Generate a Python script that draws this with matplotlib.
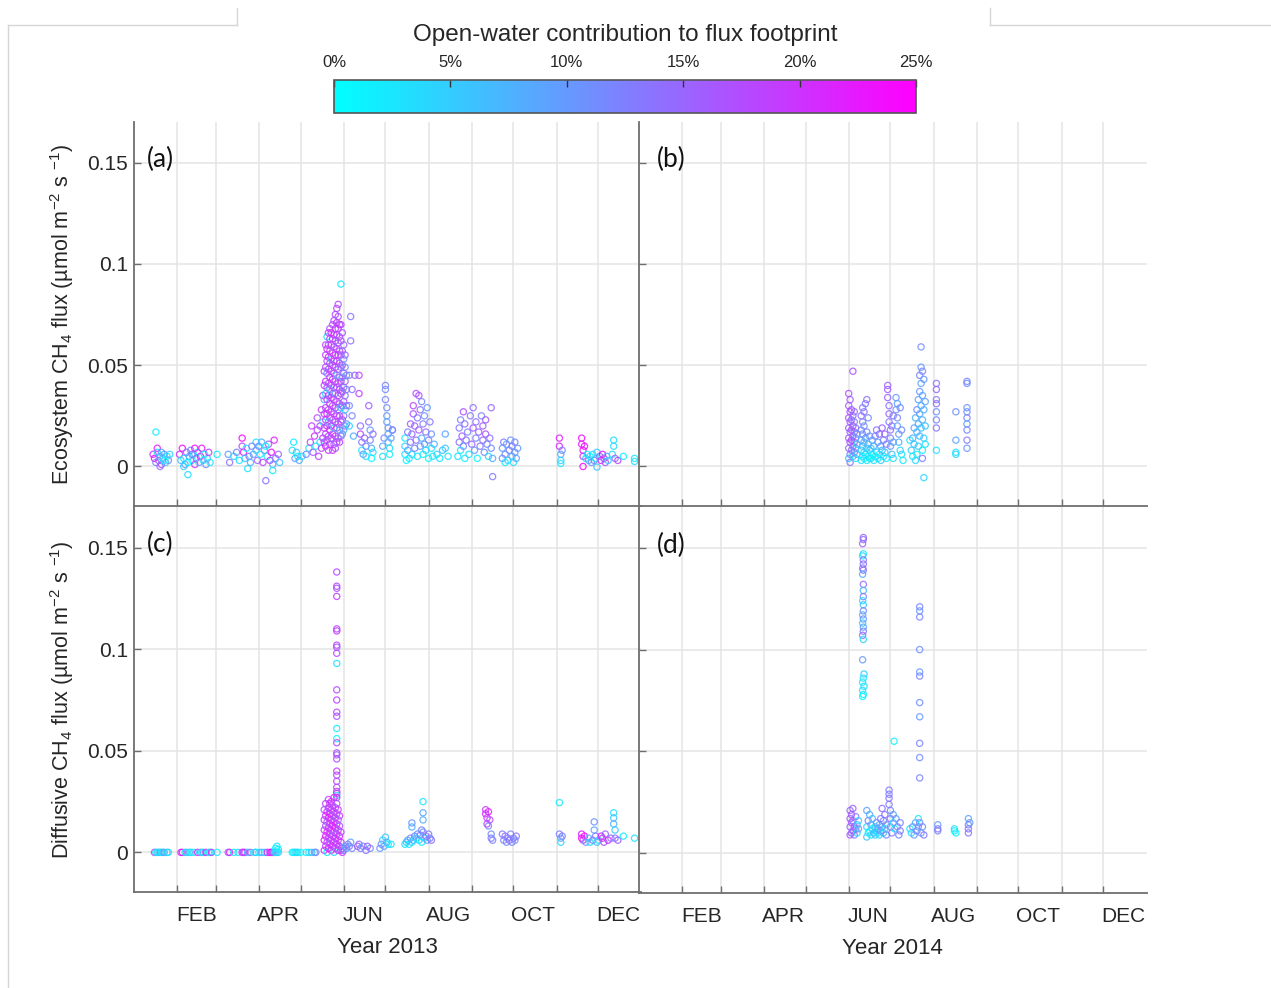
import matplotlib
matplotlib.use('Agg')
import matplotlib.pyplot as plt
import matplotlib.colors as mcolors
from matplotlib.lines import Line2D
import numpy as np

plt.rcParams.update({
    'font.family': ['Liberation Sans', 'DejaVu Sans'],
    'mathtext.fontset': 'custom',
    'mathtext.rm': 'Liberation Sans',
    'mathtext.it': 'Liberation Sans:italic',
    'mathtext.default': 'regular',
})

# (day of year, flux in umol m-2 s-1, open-water contribution in %)
eco_2013 = [
    (16, 0.017, 2), (14, 0.006, 20), (15, 0.004, 24), (16, 0.002, 12), (17, 0.007, 3), (18, 0.003, 15),
    (19, 0.005, 8), (20, 0.001, 18), (21, 0.004, 4), (22, 0.006, 10), (23, 0.002, 6), (24, 0.005, 2),
    (25, 0.003, 12), (26, 0.006, 5), (17, 0.009, 22), (19, 0.0, 14), (22, 0.003, 1), (20, 0.007, 9),
    (33, 0.006, 20), (34, 0.003, 6), (35, 0.009, 24), (36, 0.004, 2), (37, 0.001, 10), (38, 0.007, 14),
    (39, -0.004, 3), (39, 0.002, 1), (40, 0.005, 8), (41, 0.008, 12), (42, 0.003, 0), (43, 0.006, 4),
    (44, 0.001, 20), (45, 0.004, 16), (46, 0.007, 2), (47, 0.002, 9), (48, 0.005, 24), (49, 0.009, 23),
    (50, 0.003, 3), (51, 0.006, 1), (52, 0.001, 11), (53, 0.004, 7), (54, 0.007, 19), (55, 0.002, 2),
    (36, 0.0, 5), (44, 0.009, 24), (42, 0.006, 13), (60, 0.006, 2),
    (68, 0.006, 10), (69, 0.002, 14), (72, 0.005, 4), (74, 0.007, 12), (76, 0.003, 2), (78, 0.014, 24),
    (78, 0.010, 18), (79, 0.007, 22), (80, 0.004, 6), (81, 0.009, 1), (82, -0.001, 3), (83, 0.005, 13),
    (84, 0.002, 8), (86, 0.006, 9), (88, 0.012, 3), (88, 0.008, 5), (89, 0.003, 15), (90, 0.010, 12),
    (91, 0.006, 2), (92, 0.012, 7), (93, 0.002, 18), (94, 0.008, 10), (95, -0.007, 14), (96, 0.005, 4),
    (97, 0.011, 16), (98, 0.003, 20), (99, 0.007, 24), (100, 0.001, 9), (101, 0.013, 22), (102, 0.004, 13),
    (104, 0.006, 15), (105, 0.002, 6), (85, 0.010, 12), (95, 0.010, 1), (100, -0.002, 2),
    (114, 0.008, 3), (115, 0.012, 2), (116, 0.004, 10), (117, 0.007, 6), (118, 0.005, 1), (119, 0.003, 8),
    (121, 0.005, 4), (124, 0.006, 12), (126, 0.009, 4),
    (127, 0.012, 18), (128, 0.020, 19), (129, 0.007, 16), (130, 0.015, 20), (131, 0.010, 3), (132, 0.018, 18),
    (132, 0.024, 17), (133, 0.005, 19), (134, 0.012, 2), (134, 0.020, 17), (135, 0.009, 18), (135, 0.028, 19),
    (136, 0.014, 20), (136, 0.022, 5), (136, 0.035, 18),
    (137, 0.012, 18), (137, 0.019, 20), (137, 0.026, 17), (137, 0.033, 8), (137, 0.040, 19), (137, 0.047, 18),
    (138, 0.010, 21), (138, 0.016, 17), (138, 0.023, 19), (138, 0.029, 18), (138, 0.036, 4), (138, 0.042, 20),
    (138, 0.049, 17), (138, 0.055, 19), (138, 0.060, 18),
    (139, 0.013, 17), (139, 0.020, 19), (139, 0.026, 21), (139, 0.033, 18), (139, 0.039, 17), (139, 0.046, 12),
    (139, 0.052, 18), (139, 0.058, 20), (139, 0.064, 3),
    (140, 0.008, 19), (140, 0.015, 18), (140, 0.022, 8), (140, 0.028, 19), (140, 0.035, 20), (140, 0.041, 17),
    (140, 0.048, 18), (140, 0.054, 21), (140, 0.060, 18), (140, 0.066, 19),
    (141, 0.011, 18), (141, 0.018, 21), (141, 0.024, 17), (141, 0.031, 18), (141, 0.038, 6), (141, 0.044, 19),
    (141, 0.051, 17), (141, 0.057, 20), (141, 0.063, 18), (141, 0.068, 17),
    (142, 0.014, 17), (142, 0.020, 18), (142, 0.027, 20), (142, 0.034, 18), (142, 0.040, 17), (142, 0.047, 19),
    (142, 0.053, 9), (142, 0.060, 18), (142, 0.066, 20),
    (143, 0.008, 20), (143, 0.016, 18), (143, 0.023, 17), (143, 0.030, 19), (143, 0.036, 18), (143, 0.043, 21),
    (143, 0.050, 17), (143, 0.056, 18), (143, 0.063, 19), (143, 0.070, 18),
    (144, 0.011, 17), (144, 0.019, 5), (144, 0.026, 18), (144, 0.033, 20), (144, 0.039, 17), (144, 0.046, 18),
    (144, 0.052, 19), (144, 0.059, 17), (144, 0.065, 21), (144, 0.072, 18),
    (145, 0.009, 18), (145, 0.015, 19), (145, 0.022, 17), (145, 0.029, 18), (145, 0.036, 10), (145, 0.042, 19),
    (145, 0.049, 18), (145, 0.055, 20), (145, 0.062, 17), (145, 0.068, 19), (145, 0.075, 18),
    (146, 0.012, 16), (146, 0.019, 18), (146, 0.025, 20), (146, 0.032, 17), (146, 0.039, 18), (146, 0.045, 7),
    (146, 0.052, 19), (146, 0.058, 18), (146, 0.065, 17), (146, 0.071, 20), (146, 0.078, 18),
    (147, 0.014, 19), (147, 0.021, 17), (147, 0.028, 12), (147, 0.035, 19), (147, 0.041, 18), (147, 0.048, 17),
    (147, 0.055, 20), (147, 0.061, 18), (147, 0.068, 19), (147, 0.074, 17), (147, 0.080, 18),
    (148, 0.012, 18), (148, 0.018, 10), (148, 0.025, 19), (148, 0.031, 17), (148, 0.038, 18), (148, 0.044, 14),
    (148, 0.051, 18), (148, 0.057, 19), (148, 0.064, 17), (148, 0.070, 18),
    (149, 0.015, 14), (149, 0.022, 18), (149, 0.029, 6), (149, 0.036, 17), (149, 0.042, 19), (149, 0.049, 13),
    (149, 0.055, 18), (149, 0.062, 17), (149, 0.070, 19), (149, 0.090, 2),
    (150, 0.016, 11), (150, 0.023, 17), (150, 0.030, 15), (150, 0.037, 18), (150, 0.044, 9), (150, 0.050, 16),
    (150, 0.057, 14), (150, 0.066, 17),
    (151, 0.018, 8), (151, 0.025, 14), (151, 0.032, 17), (151, 0.039, 12), (151, 0.046, 16), (151, 0.053, 11),
    (151, 0.060, 15),
    (152, 0.020, 13), (152, 0.028, 5), (152, 0.035, 14), (152, 0.042, 16), (152, 0.049, 12), (152, 0.055, 15),
    (153, 0.021, 10), (153, 0.030, 14), (153, 0.038, 13), (153, 0.045, 11),
    (155, 0.020, 4), (155, 0.030, 12), (155, 0.045, 13), (156, 0.062, 14), (156, 0.074, 13), (157, 0.025, 12),
    (157, 0.038, 14), (158, 0.015, 8), (159, 0.045, 14),
    (162, 0.045, 18), (162, 0.036, 19), (163, 0.020, 14), (163, 0.016, 18), (164, 0.012, 13), (164, 0.008, 2),
    (165, 0.006, 10), (166, 0.014, 15), (167, 0.005, 4), (167, 0.010, 12), (169, 0.030, 16), (169, 0.022, 14),
    (170, 0.018, 10), (170, 0.013, 12), (171, 0.009, 8), (171, 0.004, 1), (172, 0.016, 14), (172, 0.007, 3),
    (179, 0.010, 9), (179, 0.005, 3), (180, 0.014, 12), (181, 0.040, 12), (181, 0.038, 11), (181, 0.033, 12),
    (182, 0.029, 11), (182, 0.025, 10), (182, 0.022, 9), (183, 0.019, 11), (183, 0.016, 8), (183, 0.012, 6),
    (184, 0.009, 4), (184, 0.006, 2), (185, 0.014, 10), (186, 0.018, 13), (186, 0.018, 11),
    (195, 0.006, 3), (195, 0.010, 5), (195, 0.014, 2), (196, 0.003, 1), (197, 0.008, 9), (197, 0.017, 12),
    (198, 0.004, 2), (199, 0.012, 14), (199, 0.021, 16), (200, 0.006, 4), (200, 0.016, 15), (201, 0.026, 17),
    (201, 0.030, 18), (202, 0.009, 12), (202, 0.020, 15), (203, 0.036, 18), (203, 0.013, 14), (204, 0.024, 13),
    (204, 0.005, 3), (205, 0.035, 17), (205, 0.018, 16), (206, 0.010, 10), (206, 0.028, 14), (207, 0.032, 12),
    (207, 0.014, 8), (208, 0.021, 13), (208, 0.006, 2), (209, 0.025, 11), (209, 0.011, 9), (210, 0.017, 14),
    (210, 0.008, 4), (211, 0.029, 10), (212, 0.013, 12), (212, 0.004, 1), (213, 0.022, 13), (214, 0.016, 11),
    (214, 0.009, 3), (215, 0.005, 2), (216, 0.011, 8),
    (218, 0.006, 4), (220, 0.004, 2), (222, 0.008, 6), (224, 0.016, 9), (224, 0.009, 5), (226, 0.005, 3),
    (233, 0.005, 3), (234, 0.012, 14), (234, 0.019, 13), (235, 0.023, 12), (235, 0.008, 2), (236, 0.015, 16),
    (237, 0.027, 17), (237, 0.010, 11), (238, 0.021, 14), (238, 0.004, 2), (239, 0.013, 13), (240, 0.017, 12),
    (241, 0.006, 3), (242, 0.025, 13), (243, 0.011, 15), (244, 0.029, 14), (244, 0.019, 16), (245, 0.008, 10),
    (246, 0.014, 12), (246, 0.022, 14), (247, 0.004, 1), (248, 0.017, 15), (249, 0.010, 13), (250, 0.025, 12),
    (251, 0.013, 14), (251, 0.020, 16), (252, 0.007, 11), (253, 0.016, 17), (253, 0.023, 16), (254, 0.011, 12),
    (255, 0.005, 4), (256, 0.014, 14), (257, 0.029, 15), (257, 0.009, 11), (258, -0.005, 13), (258, 0.004, 8),
    (265, 0.004, 12), (265, 0.009, 10), (266, 0.012, 13), (267, 0.002, 2), (267, 0.006, 11), (268, 0.011, 9),
    (269, 0.003, 5), (270, 0.008, 12), (271, 0.013, 10), (272, 0.005, 8), (272, 0.010, 13), (273, 0.002, 3),
    (274, 0.007, 11), (274, 0.012, 12), (275, 0.004, 9), (276, 0.009, 10),
    (306, 0.014, 22), (306, 0.010, 21), (307, 0.006, 8), (307, 0.003, 5), (307, 0.0015, 2), (308, 0.008, 12),
    (322, 0.014, 24), (322, 0.011, 22), (323, 0.008, 23), (323, 0.005, 20), (323, 0.0, 24), (324, 0.010, 24),
    (325, 0.004, 6), (326, 0.006, 3), (327, 0.003, 8), (328, 0.005, 1), (329, 0.002, 10), (330, 0.006, 4),
    (331, 0.003, 12), (332, 0.004, 2), (333, -0.0003, 6), (333, 0.007, 5), (335, 0.005, 13), (336, 0.003, 21),
    (337, 0.006, 24), (338, 0.004, 17), (339, 0.002, 16), (340, 0.005, 9), (341, 0.003, 5), (344, 0.006, 3),
    (345, 0.013, 3), (345, 0.010, 4), (346, 0.004, 14), (348, 0.003, 18),
    (352, 0.005, 2), (360, 0.004, 2), (360, 0.0025, 3),
]

eco_2014 = [
    (151, 0.004, 6), (151, 0.009, 14), (151, 0.014, 16), (151, 0.019, 15), (151, 0.024, 17), (151, 0.030, 16),
    (151, 0.036, 17), (152, 0.006, 12), (152, 0.012, 17), (152, 0.017, 15), (152, 0.022, 16), (152, 0.027, 18),
    (152, 0.033, 16), (152, 0.002, 14), (153, 0.008, 15), (153, 0.013, 17), (153, 0.018, 16), (153, 0.023, 14),
    (153, 0.028, 16), (154, 0.005, 7), (154, 0.010, 14), (154, 0.015, 16), (154, 0.020, 17), (154, 0.025, 15),
    (154, 0.047, 17), (155, 0.007, 13), (155, 0.012, 16), (155, 0.017, 15), (155, 0.022, 12), (155, 0.027, 14),
    (156, 0.004, 3), (156, 0.009, 10), (156, 0.014, 12), (156, 0.019, 14), (157, 0.006, 8), (157, 0.011, 5),
    (157, 0.016, 10),
    (160, 0.003, 3), (160, 0.008, 5), (160, 0.013, 9), (160, 0.018, 12), (160, 0.025, 14), (161, 0.005, 2),
    (161, 0.010, 7), (161, 0.016, 11), (161, 0.022, 13), (161, 0.029, 12), (162, 0.004, 1), (162, 0.007, 4),
    (162, 0.012, 8), (162, 0.020, 10), (162, 0.027, 14), (163, 0.006, 3), (163, 0.014, 9), (163, 0.031, 13),
    (164, 0.003, 2), (164, 0.009, 6), (164, 0.017, 12), (164, 0.033, 14), (165, 0.005, 1), (165, 0.011, 7),
    (165, 0.024, 11), (166, 0.004, 3), (166, 0.008, 4), (166, 0.015, 10),
    (167, 0.004, 1), (167, 0.009, 6), (168, 0.006, 2), (168, 0.013, 9), (169, 0.003, 3), (169, 0.010, 8),
    (170, 0.005, 1), (170, 0.015, 12), (171, 0.007, 4), (171, 0.018, 13), (172, 0.004, 2), (172, 0.012, 10),
    (173, 0.006, 1), (173, 0.016, 14), (174, 0.003, 5), (174, 0.010, 9), (175, 0.008, 7), (175, 0.019, 15),
    (176, 0.005, 3), (176, 0.013, 12), (177, 0.007, 6), (177, 0.016, 15), (178, 0.004, 2), (178, 0.011, 13),
    (179, 0.040, 15), (179, 0.038, 16), (179, 0.034, 15), (180, 0.030, 14), (180, 0.026, 15), (180, 0.022, 13),
    (181, 0.018, 14), (181, 0.014, 12), (181, 0.010, 10), (182, 0.006, 6), (182, 0.020, 14), (183, 0.004, 3),
    (183, 0.012, 9), (183, 0.025, 13),
    (185, 0.034, 10), (185, 0.028, 11), (186, 0.024, 12), (186, 0.020, 9), (187, 0.016, 10), (187, 0.012, 8),
    (188, 0.008, 4), (188, 0.029, 12), (189, 0.018, 11), (189, 0.006, 3), (190, 0.003, 2), (186, 0.031, 9),
    (195, 0.013, 3), (196, 0.008, 5), (197, 0.014, 8), (197, 0.005, 2), (198, 0.019, 9), (198, 0.011, 6),
    (199, 0.024, 8), (199, 0.003, 4), (200, 0.028, 11), (200, 0.017, 7), (200, 0.006, 2), (201, 0.033, 9),
    (201, 0.021, 8), (201, 0.010, 5), (202, 0.045, 12), (202, 0.037, 10), (202, 0.026, 9), (202, 0.015, 7),
    (203, 0.059, 11), (203, 0.049, 10), (203, 0.041, 9), (203, 0.030, 8), (203, 0.019, 6), (204, 0.047, 12),
    (204, 0.035, 9), (204, 0.023, 7), (204, 0.008, 2), (205, 0.043, 10), (205, 0.028, 8), (205, 0.014, 5),
    (205, -0.0055, 4), (206, 0.032, 9), (206, 0.020, 6), (206, 0.011, 3), (204, 0.004, 13),
    (214, 0.041, 14), (214, 0.038, 15), (214, 0.033, 13), (214, 0.031, 14), (214, 0.027, 11), (214, 0.023, 12),
    (214, 0.019, 13), (214, 0.008, 3),
    (228, 0.027, 11), (228, 0.013, 9), (228, 0.007, 3), (228, 0.006, 4),
    (236, 0.042, 12), (236, 0.041, 11), (236, 0.029, 10), (236, 0.027, 11), (236, 0.024, 12), (236, 0.021, 9),
    (236, 0.018, 12), (236, 0.013, 13), (236, 0.009, 10),
]

dif_2013 = [
    (15, 0.0, 20), (16, 0.0, 3), (17, 0.0, 5), (18, 0.0, 1), (19, 0.0, 8), (20, 0.0, 2), (21, 0.0, 4),
    (22, 0.0, 10), (24, 0.0, 6), (25, 0.0, 3), (34, 0.0, 20), (35, 0.0, 24), (37, 0.0, 2), (38, 0.0, 5),
    (40, 0.0, 8), (41, 0.0, 1), (43, 0.0, 3), (46, 0.0, 22), (48, 0.0, 10), (49, 0.0, 2), (50, 0.0, 4),
    (52, 0.0, 24), (54, 0.0, 3), (55, 0.0, 1), (56, 0.0, 20), (60, 0.0, 2), (68, 0.0, 15), (69, 0.0, 22),
    (72, 0.0, 2), (75, 0.0, 3), (78, 0.0, 23), (79, 0.0, 18), (80, 0.0, 20), (82, 0.0, 5), (84, 0.0, 14),
    (87, 0.0, 3), (88, 0.0, 6), (90, 0.0, 1), (92, 0.0, 9), (94, 0.0, 4), (96, 0.0, 20), (98, 0.0, 22),
    (99, 0.0, 24), (100, 0.0, 18), (101, 0.0, 12), (102, 0.0, 3), (103, 0.0, 2), (104, 0.0, 5),
    (102, 0.002, 1), (103, 0.003, 2), (104, 0.0015, 3),
    (114, 0.0, 2), (115, 0.0, 1), (116, 0.0, 3), (117, 0.0, 2), (118, 0.0, 4), (120, 0.0, 1), (124, 0.0, 2),
    (126, 0.0, 3), (128, 0.0, 5), (130, 0.0, 8), (131, 0.0, 12),
    (146, 0.138, 18), (146, 0.131, 18), (146, 0.130, 17), (146, 0.126, 19), (146, 0.110, 18), (146, 0.109, 19),
    (146, 0.102, 18), (146, 0.101, 17), (146, 0.098, 18), (146, 0.093, 3), (146, 0.080, 18), (146, 0.075, 19),
    (146, 0.069, 18), (146, 0.067, 17), (146, 0.061, 2), (146, 0.056, 1), (146, 0.054, 18), (146, 0.049, 17),
    (146, 0.048, 16), (146, 0.046, 18), (146, 0.040, 19), (146, 0.038, 18), (146, 0.035, 18), (146, 0.032, 17),
    (146, 0.030, 19), (146, 0.029, 18), (146, 0.028, 4), (146, 0.027, 20),
    (137, 0.001, 20), (137, 0.006, 22), (137, 0.011, 18), (137, 0.016, 19), (137, 0.021, 17),
    (138, 0.003, 18), (138, 0.008, 22), (138, 0.013, 17), (138, 0.018, 20), (138, 0.024, 19),
    (139, 0.0, 2), (139, 0.005, 19), (139, 0.010, 22), (139, 0.015, 16), (139, 0.020, 21),
    (140, 0.002, 24), (140, 0.007, 18), (140, 0.012, 20), (140, 0.017, 22), (140, 0.022, 17), (140, 0.026, 19),
    (141, 0.004, 17), (141, 0.009, 21), (141, 0.014, 18), (141, 0.019, 23), (141, 0.024, 20),
    (142, 0.001, 22), (142, 0.006, 16), (142, 0.011, 19), (142, 0.016, 21), (142, 0.021, 18), (142, 0.025, 20),
    (143, 0.003, 20), (143, 0.008, 18), (143, 0.013, 22), (143, 0.018, 17), (143, 0.023, 19),
    (144, 0.0, 4), (144, 0.005, 22), (144, 0.010, 16), (144, 0.015, 20), (144, 0.020, 18), (144, 0.027, 21),
    (145, 0.002, 18), (145, 0.007, 20), (145, 0.012, 22), (145, 0.017, 17), (145, 0.022, 19),
    (146, 0.004, 20), (146, 0.009, 17), (146, 0.014, 23), (146, 0.019, 18), (146, 0.024, 16),
    (147, 0.001, 21), (147, 0.006, 18), (147, 0.011, 19), (147, 0.016, 15), (147, 0.021, 20),
    (148, 0.003, 18), (148, 0.008, 22), (148, 0.013, 16), (148, 0.018, 19),
    (149, 0.001, 17), (149, 0.005, 20), (149, 0.010, 18),
    (150, 0.0, 20), (150, 0.002, 16), (151, 0.001, 13), (152, 0.003, 8), (153, 0.002, 10), (154, 0.004, 12),
    (155, 0.003, 14), (156, 0.005, 9), (157, 0.002, 11),
    (161, 0.003, 16), (162, 0.004, 15), (163, 0.002, 13), (165, 0.003, 10), (167, 0.001, 14), (168, 0.003, 16),
    (170, 0.002, 12),
    (177, 0.002, 10), (178, 0.004, 12), (179, 0.006, 4), (180, 0.003, 9), (181, 0.0075, 6), (182, 0.005, 8),
    (183, 0.004, 2), (185, 0.004, 3),
    (195, 0.004, 3), (196, 0.005, 6), (197, 0.006, 9), (198, 0.004, 2), (199, 0.007, 11), (200, 0.005, 4),
    (200, 0.0125, 8), (200, 0.0145, 10), (201, 0.006, 7), (202, 0.008, 12), (203, 0.007, 3), (204, 0.009, 10),
    (205, 0.006, 5), (206, 0.0085, 13), (207, 0.011, 12), (207, 0.005, 1), (208, 0.025, 3), (208, 0.0195, 9),
    (208, 0.016, 8), (208, 0.010, 11), (209, 0.007, 4), (210, 0.008, 14), (211, 0.006, 10), (212, 0.009, 13),
    (213, 0.007, 12), (214, 0.006, 14),
    (253, 0.021, 19), (253, 0.019, 21), (254, 0.017, 20), (254, 0.014, 18), (255, 0.013, 12), (255, 0.020, 22),
    (256, 0.016, 17), (257, 0.009, 11), (257, 0.007, 13), (258, 0.006, 12),
    (265, 0.009, 13), (266, 0.006, 12), (267, 0.008, 14), (268, 0.005, 11), (269, 0.007, 13), (270, 0.006, 14),
    (271, 0.009, 12), (272, 0.005, 13), (273, 0.007, 14), (274, 0.006, 11), (275, 0.008, 13),
    (306, 0.0245, 2), (306, 0.009, 12), (307, 0.007, 10), (307, 0.005, 4), (308, 0.008, 13),
    (322, 0.009, 22), (322, 0.007, 24), (323, 0.006, 20), (324, 0.008, 23), (325, 0.005, 10), (327, 0.007, 8),
    (328, 0.005, 4), (330, 0.006, 12), (331, 0.015, 11), (331, 0.011, 9), (332, 0.008, 13), (333, 0.005, 6),
    (334, 0.006, 3), (336, 0.008, 22), (337, 0.007, 20), (338, 0.005, 17), (339, 0.009, 15), (341, 0.006, 21),
    (343, 0.007, 14), (345, 0.0195, 3), (345, 0.017, 6), (345, 0.014, 8), (346, 0.011, 5), (346, 0.007, 13),
    (348, 0.006, 16), (352, 0.008, 2), (360, 0.007, 3),
]

dif_2014 = [
    (161.5, 0.155, 15), (161.5, 0.154, 14), (161, 0.152, 15), (161.5, 0.147, 3), (161, 0.146, 4),
    (161.5, 0.144, 13), (161.5, 0.142, 14), (161, 0.140, 12), (161.5, 0.139, 15), (161, 0.137, 8),
    (161.5, 0.132, 14), (161.5, 0.129, 7), (161.5, 0.126, 13), (161, 0.124, 3), (161.5, 0.122, 6),
    (161.5, 0.119, 12), (161, 0.117, 8), (161.5, 0.115, 11), (161, 0.113, 5), (161.5, 0.111, 9),
    (161.5, 0.109, 13), (161, 0.107, 14), (161.5, 0.105, 4), (161, 0.095, 10), (162, 0.088, 5),
    (161.5, 0.086, 3), (161, 0.084, 2), (162, 0.082, 4), (161, 0.080, 3), (161.5, 0.078, 2), (161, 0.077, 1),
    (183.6, 0.055, 1),
    (202, 0.121, 12), (202, 0.119, 10), (202, 0.116, 12), (202, 0.100, 11), (202, 0.089, 10), (202, 0.087, 12),
    (202, 0.074, 11), (202, 0.067, 10), (202, 0.054, 12), (202, 0.047, 11), (202, 0.037, 12),
    (152, 0.009, 16), (152, 0.013, 15), (152, 0.017, 16), (152, 0.021, 14), (153, 0.010, 15), (153, 0.015, 16),
    (153, 0.019, 17), (154, 0.011, 16), (154, 0.016, 15), (154, 0.022, 16), (155, 0.009, 14), (155, 0.013, 16),
    (156, 0.012, 15), (156, 0.018, 13), (157, 0.010, 4), (157, 0.014, 6), (158, 0.012, 10), (158, 0.016, 5),
    (164, 0.008, 6), (164, 0.013, 4), (164, 0.021, 9), (165, 0.010, 2), (165, 0.016, 12), (166, 0.011, 1),
    (166, 0.019, 8), (167, 0.009, 3), (167, 0.014, 10), (168, 0.012, 1), (168, 0.017, 6), (169, 0.010, 9),
    (170, 0.013, 3), (170, 0.009, 5), (171, 0.011, 7), (171, 0.015, 11), (172, 0.010, 2), (172, 0.012, 10),
    (173, 0.014, 8), (173, 0.009, 4), (174, 0.017, 13), (174, 0.011, 12), (175, 0.022, 14), (175, 0.013, 9),
    (176, 0.010, 6), (176, 0.016, 12), (177, 0.012, 3), (177, 0.019, 14), (178, 0.014, 11), (178, 0.009, 12),
    (180, 0.031, 13), (180, 0.029, 12), (180, 0.027, 14), (180, 0.024, 13), (181, 0.021, 12), (181, 0.017, 14),
    (181, 0.013, 11), (182, 0.010, 13), (183, 0.019, 9), (183, 0.015, 4), (184, 0.012, 2), (185, 0.017, 10),
    (186, 0.013, 11), (187, 0.009, 12), (188, 0.011, 13), (188, 0.015, 12),
    (195, 0.012, 2), (196, 0.010, 3), (197, 0.013, 12), (198, 0.009, 10), (199, 0.015, 8), (200, 0.011, 13),
    (201, 0.013, 9), (201, 0.017, 2), (202, 0.015, 12), (203, 0.010, 10), (204, 0.013, 11), (205, 0.009, 13),
    (215, 0.014, 10), (215, 0.011, 12), (215, 0.012, 13),
    (227, 0.012, 3), (227, 0.011, 2), (228, 0.010, 1),
    (237, 0.017, 9), (237, 0.014, 12), (237, 0.012, 13), (237, 0.010, 14), (238, 0.015, 10),
]

month_starts = [31, 59, 90, 120, 151, 181, 212, 243, 273, 304, 334]
label_days = [45, 104, 165, 226, 287, 348]
month_labels = ['FEB', 'APR', 'JUN', 'AUG', 'OCT', 'DEC']
y_ticks = [0, 0.05, 0.1, 0.15]
y_ticklabels = ['0', '0.05', '0.1', '0.15']
cbar_ticks = [0, 5, 10, 15, 20, 25]

cmap = plt.get_cmap('cool')
norm = mcolors.Normalize(vmin=0, vmax=25)
axis_col = '#6e6e6e'

W, H = 1271, 988
fig = plt.figure(figsize=(W / 100, H / 100), dpi=100)


def box(x0, y0, x1, y1):
    return [x0 / W, 1 - y1 / H, (x1 - x0) / W, (y1 - y0) / H]


ax_a = fig.add_axes(box(133.6, 122, 641.5, 506))
ax_b = fig.add_axes(box(638.6, 122, 1146.5, 506))
ax_c = fig.add_axes(box(133.6, 507, 641.5, 892))
ax_d = fig.add_axes(box(638.6, 507, 1146.5, 893))
ax_b.set_facecolor('none')
ax_d.set_facecolor('none')


def style(ax, left_labels, bottom_labels):
    ax.set_xlim(0, 365)
    ax.set_ylim(-0.0195, 0.17)
    for s in ('top', 'right'):
        ax.spines[s].set_visible(False)
    for s in ('left', 'bottom'):
        ax.spines[s].set_color(axis_col)
        ax.spines[s].set_linewidth(1.3)
    ax.set_xticks(month_starts)
    ax.set_xticklabels([])
    ax.set_xticks(label_days, minor=True)
    ax.set_xticklabels(month_labels if bottom_labels else [], minor=True)
    ax.set_yticks(y_ticks)
    ax.set_yticklabels(y_ticklabels if left_labels else [])
    ax.tick_params(direction='in', length=5, width=1, color=axis_col, labelsize=15,
                   labelcolor='#262626')
    ax.tick_params(axis='y', pad=4)
    ax.tick_params(axis='x', which='minor', length=0, pad=10, labelsize=15, labelcolor='#262626')
    ax.grid(True, which='major', color='#e4e4e4', lw=1.1)
    ax.set_axisbelow(True)


def draw(ax, pts):
    day, flux, ow = np.array(pts).T
    ax.scatter(day, flux, s=20, facecolors='none', edgecolors=cmap(norm(ow)),
               linewidths=0.9, alpha=0.85, zorder=3)


style(ax_a, True, False)
style(ax_b, False, False)
style(ax_c, True, True)
style(ax_d, False, True)

draw(ax_a, eco_2013)
draw(ax_b, eco_2014)
draw(ax_c, dif_2013)
draw(ax_d, dif_2014)

for ax, lab, x in ((ax_a, '(a)', 0.026), (ax_b, '(b)', 0.036), (ax_c, '(c)', 0.026), (ax_d, '(d)', 0.036)):
    ax.text(x, 0.934, lab, transform=ax.transAxes, fontsize=19, va='top', ha='left',
            family=['Lato', 'DejaVu Sans'], color='#111111')

ax_c.set_xlabel('Year 2013', fontsize=16, labelpad=9, color='#262626')
ax_d.set_xlabel('Year 2014', fontsize=16, labelpad=9, color='#262626')

fig.text(62 / W, 1 - 314 / H, 'Ecosystem CH$_4$ flux (µmol m$^{-2}$ s $^{-1}$)', rotation=90,
         ha='center', va='center', fontsize=15.5, color='#262626')
fig.text(62 / W, 1 - 700 / H, 'Diffusive CH$_4$ flux (µmol m$^{-2}$ s $^{-1}$)', rotation=90,
         ha='center', va='center', fontsize=15.5, color='#262626')

# colour bar on top
cax = fig.add_axes(box(334, 80, 916, 113))
sm = plt.cm.ScalarMappable(norm=norm, cmap=cmap)
cb = fig.colorbar(sm, cax=cax, orientation='horizontal', ticklocation='top')
cb.set_ticks(cbar_ticks)
cb.set_ticklabels(['%d%%' % t for t in cbar_ticks])
cax.tick_params(direction='in', length=5, width=1, color='#333333', labelsize=12, pad=7,
                labelcolor='#262626')
cb.outline.set_edgecolor('#555555')
cb.outline.set_linewidth(1.2)
fig.text(625 / W, 1 - 35 / H, 'Open-water contribution to flux footprint', ha='center', va='center',
         fontsize=17.5, color='#262626')

# thin frame lines left over from the screenshot
frame = '#d6d6d6'
for xs, ys in (([8, 237], [25, 25]), ([237, 237], [8, 25]), ([8, 8], [25, 988]),
               ([990, 990], [8, 25]), ([990, 1271], [25, 25])):
    fig.add_artist(Line2D([x / W for x in xs], [1 - y / H for y in ys], color=frame, lw=1))

fig.savefig('out.png', dpi=100)
